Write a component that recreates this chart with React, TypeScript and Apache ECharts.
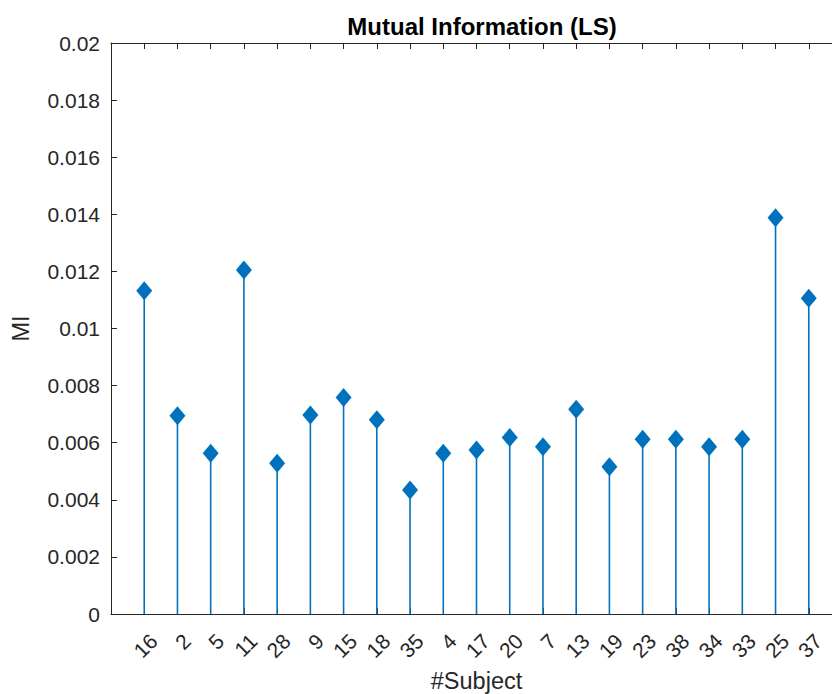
import React, { useEffect, useRef } from "react";
import * as echarts from "echarts";

const subjects = ["16", "2", "5", "11", "28", "9", "15", "18", "35", "4", "17", "20", "7", "13", "19", "23", "38", "34", "33", "25", "37"];
const miValues = [0.01132, 0.00694, 0.00563, 0.01205, 0.00528, 0.00697, 0.00758, 0.0068, 0.00434, 0.00563, 0.00574, 0.00618, 0.00586, 0.00717, 0.00516, 0.00612, 0.00612, 0.00586, 0.00612, 0.01388, 0.01106];
const yTicks = [0, 0.002, 0.004, 0.006, 0.008, 0.01, 0.012, 0.014, 0.016, 0.018, 0.02];

const FONT = "'Liberation Sans', Arial, Helvetica, sans-serif";
const AX = "#262626";
const BLUE = "#0072BD";

export default function App() {
  const ref = useRef<HTMLDivElement>(null);
  useEffect(() => {
    if (!ref.current) return;
    const chart = echarts.init(ref.current, undefined, { renderer: "svg" });
    const data = miValues.map((v, i) => [i + 1, v]);
    const xMax = subjects.length + 1;
    chart.setOption({
      animation: false,
      backgroundColor: "#ffffff",
      title: {
        text: "Mutual Information (LS)",
        left: 477,
        top: 9,
        textAlign: "center",
        textStyle: { fontFamily: FONT, fontSize: 24, fontWeight: "bold", color: "#000" },
      },
      grid: { left: 111, top: 43, width: 731, height: 571, containLabel: false, outerBoundsMode: "none" },
      xAxis: [
        {
          type: "value",
          position: "bottom",
          min: 0,
          max: xMax,
          interval: 1,
          name: "#Subject",
          nameLocation: "middle",
          nameGap: 55,
          nameTextStyle: { fontFamily: FONT, fontSize: 23.5, color: AX },
          axisLine: { show: true, onZero: false, lineStyle: { color: AX, width: 1 } },
          axisTick: { show: true, inside: true, length: 6, lineStyle: { color: AX } },
          splitLine: { show: false },
          axisLabel: {
            rotate: 45,
            margin: 14,
            verticalAlign: "top",
            padding: [3, 0, 0, 0],
            fontFamily: FONT,
            fontSize: 21,
            color: AX,
            formatter: (v: number) => (v >= 1 && v <= subjects.length ? subjects[Math.round(v) - 1] : ""),
          },
        },
        {
          type: "value",
          position: "top",
          min: 0,
          max: xMax,
          interval: 1,
          axisLine: { show: true, onZero: false, lineStyle: { color: AX, width: 1 } },
          axisTick: { show: true, inside: true, length: 6, lineStyle: { color: AX } },
          axisLabel: { show: false },
          splitLine: { show: false },
        },
      ],
      yAxis: [
        {
          type: "value",
          position: "left",
          min: 0,
          max: 0.02,
          interval: 0.002,
          name: "MI",
          nameLocation: "middle",
          nameGap: 78,
          nameTextStyle: { fontFamily: FONT, fontSize: 23.5, color: AX },
          axisLine: { show: true, onZero: false, lineStyle: { color: AX, width: 1 } },
          axisTick: { show: true, inside: true, length: 6, lineStyle: { color: AX } },
          splitLine: { show: false },
          axisLabel: {
            margin: 11,
            fontFamily: FONT,
            fontSize: 21,
            color: AX,
            padding: [9, 0, 0, 0],
            formatter: (v: number) => {
              const t = yTicks.find((k) => Math.abs(k - v) < 1e-9);
              return String(t !== undefined ? +t.toFixed(3) : +v.toFixed(3));
            },
          },
        },
        {
          type: "value",
          position: "right",
          min: 0,
          max: 0.02,
          interval: 0.002,
          axisLine: { show: true, onZero: false, lineStyle: { color: AX, width: 1 } },
          axisTick: { show: true, inside: true, length: 6, lineStyle: { color: AX } },
          axisLabel: { show: false },
          splitLine: { show: false },
        },
      ],
      series: [
        {
          type: "custom",
          xAxisIndex: 0,
          yAxisIndex: 0,
          data,
          renderItem: (params: any, api: any) => {
            const x = api.value(0);
            const y = api.value(1);
            const p0 = api.coord([x, 0]);
            const p1 = api.coord([x, y]);
            return {
              type: "line",
              shape: { x1: p0[0], y1: p0[1], x2: p1[0], y2: p1[1] },
              style: { stroke: BLUE, lineWidth: 1.6 },
            };
          },
          z: 2,
        },
        {
          type: "scatter",
          xAxisIndex: 0,
          yAxisIndex: 0,
          data,
          symbol: "diamond",
          symbolSize: [16, 19],
          itemStyle: { color: BLUE, opacity: 1 },
          z: 3,
        },
      ],
    });
    return () => chart.dispose();
  }, []);
  return <div ref={ref} style={{ position: "fixed", left: 0, top: 0, width: 832, height: 694 }} />;
}
